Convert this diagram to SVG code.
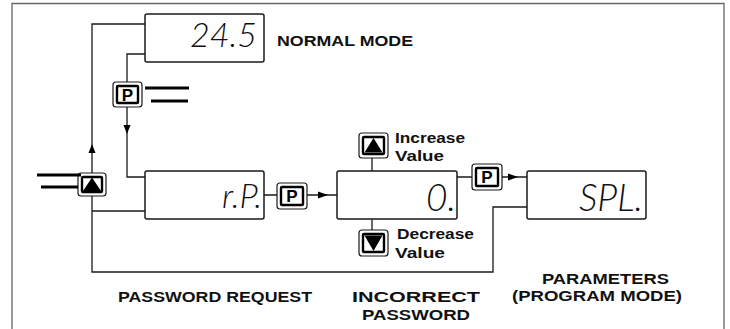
<svg xmlns="http://www.w3.org/2000/svg" width="730" height="329" viewBox="0 0 730 329">
<defs>
<style>
.ln{fill:none;stroke:#1a1a1a;stroke-width:1.3}
.bx{fill:#fff;stroke:#1a1a1a;stroke-width:1.5}
.bo{fill:#fff;stroke:#1a1a1a;stroke-width:1.2}
.bi{fill:#fff;stroke:#000;stroke-width:2.4}
.ah{fill:#000}
.lcd{font-family:"Lato","Liberation Sans",sans-serif;font-style:italic;font-weight:300;fill:#111;text-anchor:end}
.lb{font-family:"Liberation Sans",Arial,sans-serif;font-weight:bold;fill:#111;font-size:14px}
.pk{font-family:"Liberation Sans",Arial,sans-serif;font-weight:bold;fill:#000;font-size:17px;text-anchor:middle}
.dl{stroke:#000;stroke-width:3}
</style>
</defs>
<g id="frame" fill="none" stroke="#666" stroke-width="1.3">
<path d="M12 329 V3.5 H724 V329"/>
</g>
<g id="connectors">
<path class="ln" d="M145 24 H92 V272 H493 V207 H527"/>
<path class="ln" d="M145 54 H127 V177 H145"/>
<path class="ln" d="M92 211 H145"/>
<path class="ln" d="M264 195 H338"/>
<path class="ln" d="M457 177 H527"/>
<path class="ln" d="M372 158 V171 M372 219 V230"/>
<polygon class="ah" points="92,144 88.5,153 95.5,153"/>
<polygon class="ah" points="127,134 123.5,125 130.5,125"/>
<polygon class="ah" points="328,195 318,191.5 318,198.5"/>
<polygon class="ah" points="518,177 508,173.5 508,180.5"/>
</g>
<g id="normal-mode">
<rect class="bx" x="145" y="14" width="119" height="48" rx="2"/>
<text class="lcd" x="257" y="47" font-size="34">24.5</text>
<text class="lb" x="277" y="46" textLength="136" lengthAdjust="spacingAndGlyphs">NORMAL MODE</text>
</g>
<g id="p-button-1">
<rect class="bo" x="113" y="82" width="29" height="25" rx="3"/>
<rect class="bi" x="117" y="86" width="21" height="17" rx="1"/>
<text class="pk" x="127.5" y="101">P</text>
<line class="dl" x1="145" y1="88" x2="189" y2="88"/>
<line class="dl" x1="151" y1="101" x2="188" y2="101"/>
</g>
<g id="up-button-left">
<rect class="bo" x="78" y="173" width="28" height="23" rx="3"/>
<rect class="bi" x="82" y="177" width="20" height="15" rx="1"/>
<polygon fill="#000" points="92,177.5 101,191 83,191"/>
<line class="dl" x1="37" y1="175" x2="81" y2="175"/>
<line class="dl" x1="41" y1="187" x2="78" y2="187"/>
</g>
<g id="password-request">
<rect class="bx" x="145" y="171" width="119" height="48" rx="2"/>
<text class="lcd" x="262" y="208" font-size="34">r.P.</text>
<text class="lb" x="118" y="302" textLength="194" lengthAdjust="spacingAndGlyphs">PASSWORD REQUEST</text>
</g>
<g id="p-button-2">
<rect class="bo" x="277" y="183" width="30" height="26" rx="3"/>
<rect class="bi" x="281" y="187" width="22" height="18" rx="1"/>
<text class="pk" x="292" y="202">P</text>
</g>
<g id="incorrect-password">
<rect class="bx" x="337" y="171" width="120" height="48" rx="2"/>
<text class="lcd" x="456" y="211" font-size="37">0.</text>
<text class="lb" x="352" y="302" textLength="128" lengthAdjust="spacingAndGlyphs">INCORRECT</text>
<text class="lb" x="362" y="320" textLength="108" lengthAdjust="spacingAndGlyphs">PASSWORD</text>
</g>
<g id="up-button">
<rect class="bo" x="359" y="133" width="29" height="25" rx="3"/>
<rect class="bi" x="363" y="137" width="21" height="17" rx="1"/>
<polygon fill="#000" points="373.5,138 382.5,152.5 364.5,152.5"/>
<text class="lb" x="395" y="143" textLength="70" lengthAdjust="spacingAndGlyphs">Increase</text>
<text class="lb" x="395" y="161" textLength="49" lengthAdjust="spacingAndGlyphs">Value</text>
</g>
<g id="down-button">
<rect class="bo" x="359" y="230" width="29" height="26" rx="3"/>
<rect class="bi" x="363" y="234" width="21" height="18" rx="1"/>
<polygon fill="#000" points="373.5,251 382.5,235.5 364.5,235.5"/>
<text class="lb" x="397" y="239" textLength="77" lengthAdjust="spacingAndGlyphs">Decrease</text>
<text class="lb" x="395" y="258" textLength="50" lengthAdjust="spacingAndGlyphs">Value</text>
</g>
<g id="p-button-3">
<rect class="bo" x="472" y="164" width="30" height="26" rx="3"/>
<rect class="bi" x="476" y="168" width="22" height="18" rx="1"/>
<text class="pk" x="487" y="183">P</text>
</g>
<g id="parameters">
<rect class="bx" x="527" y="171" width="119" height="48" rx="2"/>
<text class="lcd" x="643" y="211" font-size="37">SPL.</text>
<text class="lb" x="542" y="284" textLength="127" lengthAdjust="spacingAndGlyphs">PARAMETERS</text>
<text class="lb" x="512" y="301" textLength="170" lengthAdjust="spacingAndGlyphs">(PROGRAM MODE)</text>
</g>
</svg>
